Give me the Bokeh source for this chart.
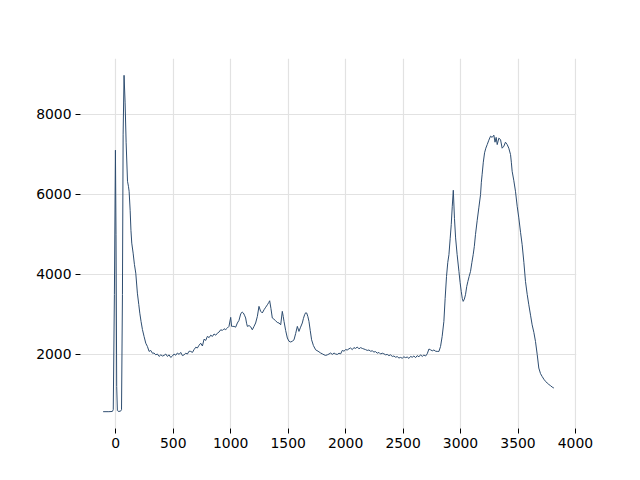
from bokeh.plotting import figure
from bokeh.models import Range1d, FixedTicker
from bokeh.embed import file_html
from bokeh.resources import INLINE

wavenumber = [-110, -60, -30, -22, -12, -3, 2, 8, 14, 20, 40, 50, 58, 64, 72,
              81, 90, 102, 110, 116, 125, 132, 139, 151, 162, 174, 188, 200, 209, 220,
              232, 246, 261, 275, 290, 304, 319, 333, 348, 362, 377, 392, 406, 420, 435,
              449, 464, 478, 493, 507, 522, 536, 551, 565, 580, 594, 609, 623, 638, 652,
              667, 681, 696, 710, 725, 739, 754, 768, 783, 797, 812, 826, 841, 855, 870,
              884, 899, 913, 928, 942, 957, 971, 985, 1000, 1008, 1014, 1029, 1043, 1058, 1072,
              1087, 1100, 1110, 1120, 1130, 1138, 1145, 1160, 1174, 1188, 1203, 1217, 1232, 1246, 1260,
              1275, 1290, 1305, 1319, 1330, 1339, 1350, 1362, 1376, 1391, 1405, 1420, 1435, 1449, 1457,
              1464, 1478, 1493, 1507, 1522, 1536, 1551, 1565, 1580, 1594, 1608, 1623, 1633, 1643, 1652,
              1661, 1671, 1681, 1692, 1704, 1720, 1739, 1760, 1783, 1800, 1812, 1826, 1841, 1855, 1870,
              1884, 1899, 1913, 1928, 1942, 1957, 1971, 1986, 2000, 2014, 2029, 2043, 2058, 2072, 2087,
              2101, 2116, 2130, 2145, 2159, 2174, 2188, 2203, 2217, 2232, 2246, 2261, 2275, 2290, 2304,
              2319, 2333, 2348, 2362, 2377, 2391, 2406, 2420, 2435, 2449, 2464, 2478, 2493, 2507, 2522,
              2536, 2551, 2565, 2580, 2594, 2609, 2623, 2638, 2652, 2667, 2681, 2696, 2710, 2725, 2739,
              2754, 2768, 2783, 2797, 2812, 2826, 2840, 2855, 2866, 2878, 2889, 2899, 2910, 2919, 2928,
              2937, 2947, 2957, 2970, 2986, 2996, 3006, 3015, 3023, 3033, 3043, 3054, 3064, 3075, 3087,
              3099, 3110, 3120, 3130, 3145, 3159, 3174, 3181, 3188, 3198, 3209, 3220, 3232, 3246, 3261,
              3275, 3290, 3300, 3310, 3319, 3333, 3348, 3362, 3377, 3391, 3406, 3420, 3435, 3442, 3449,
              3463, 3478, 3493, 3507, 3522, 3536, 3551, 3565, 3580, 3594, 3609, 3623, 3638, 3652, 3667,
              3681, 3696, 3710, 3725, 3739, 3754, 3768, 3783, 3797, 3812]

intensity = [570, 570, 575, 620, 3500, 7100, 5000, 1200, 600, 580, 580, 620, 3500, 7500, 8970,
             8300, 7300, 6325, 6200, 6075, 5600, 5100, 4780, 4530, 4250, 4030, 3530, 3250, 3030, 2820,
             2620, 2450, 2280, 2200, 2075, 2100, 2030, 2035, 1990, 2010, 1950, 1990, 1960, 1975, 2010,
             1950, 1990, 1925, 1960, 2010, 1980, 2035, 2000, 2050, 1970, 1990, 2030, 2010, 2080, 2075,
             2050, 2120, 2180, 2160, 2230, 2280, 2210, 2380, 2350, 2450, 2420, 2480, 2450, 2510, 2480,
             2530, 2560, 2615, 2600, 2640, 2620, 2660, 2700, 2925, 2700, 2700, 2700, 2680, 2785, 2850,
             3010, 3060, 3035, 2980, 2910, 2780, 2700, 2720, 2690, 2615, 2700, 2785, 2950, 3200, 3080,
             3035, 3115, 3180, 3240, 3290, 3340, 3150, 2910, 2880, 2840, 2800, 2785, 2740, 3075, 2950,
             2825, 2600, 2410, 2330, 2310, 2330, 2365, 2520, 2700, 2575, 2680, 2785, 2900, 2990, 3040,
             3035, 2950, 2825, 2600, 2365, 2220, 2115, 2080, 2035, 2010, 1990, 1975, 1990, 2010, 2035,
             2000, 2035, 2010, 2000, 2030, 2015, 2100, 2080, 2120, 2110, 2140, 2160, 2120, 2170, 2150,
             2185, 2140, 2170, 2150, 2135, 2120, 2100, 2110, 2080, 2090, 2060, 2070, 2030, 2050, 2010,
             2030, 2015, 1990, 2000, 1970, 1990, 1950, 1960, 1930, 1945, 1910, 1925, 1905, 1940, 1920,
             1935, 1900, 1950, 1930, 1960, 1920, 1970, 1940, 1990, 1950, 1985, 1960, 2015, 2135, 2115,
             2090, 2110, 2080, 2075, 2075, 2200, 2450, 2825, 3400, 3950, 4300, 4490, 4900, 5240, 5700,
             6100, 5400, 4910, 4500, 4075, 3800, 3575, 3400, 3325, 3380, 3490, 3700, 3825, 3950, 4075,
             4300, 4490, 4700, 4990, 5350, 5660, 5990, 6300, 6500, 6800, 7035, 7150, 7240, 7350, 7450,
             7420, 7475, 7300, 7420, 7240, 7400, 7365, 7150, 7200, 7300, 7240, 7150, 6990, 6800, 6575,
             6350, 6075, 5700, 5410, 5050, 4740, 4300, 3825, 3500, 3240, 2980, 2740, 2550, 2325, 2000,
             1660, 1520, 1450, 1380, 1330, 1285, 1250, 1220, 1185, 1160]

x_ticks = [0, 500, 1000, 1500, 2000, 2500, 3000, 3500, 4000]
y_ticks = [2000, 4000, 6000, 8000]

p = figure(frame_width=496, frame_height=370, output_backend="svg", toolbar_location=None,
           x_range=Range1d(-307, 4009), y_range=Range1d(150, 9390),
           min_border_left=80, min_border_right=48, min_border_top=58, min_border_bottom=44)
p.line(wavenumber, intensity, line_color="#2e4d70", line_width=1)

p.outline_line_color = None
p.background_fill_color = "white"
p.border_fill_color = "white"
for ax, ticks in ((p.xaxis, x_ticks), (p.yaxis, y_ticks)):
    ax.ticker = FixedTicker(ticks=ticks)
    ax.axis_line_color = None
    ax.major_tick_line_color = "black"
    ax.major_tick_out = 5
    ax.major_tick_in = 0
    ax.minor_tick_line_color = None
    ax.major_label_text_font = "DejaVu Sans"
    ax.major_label_text_font_size = "13.9px"
    ax.major_label_text_color = "black"
    ax.major_label_standoff = 4
p.grid.grid_line_color = "#e2e2e2"
p.grid.grid_line_width = 1.2

open("out.html", "w").write(file_html(p, INLINE))
